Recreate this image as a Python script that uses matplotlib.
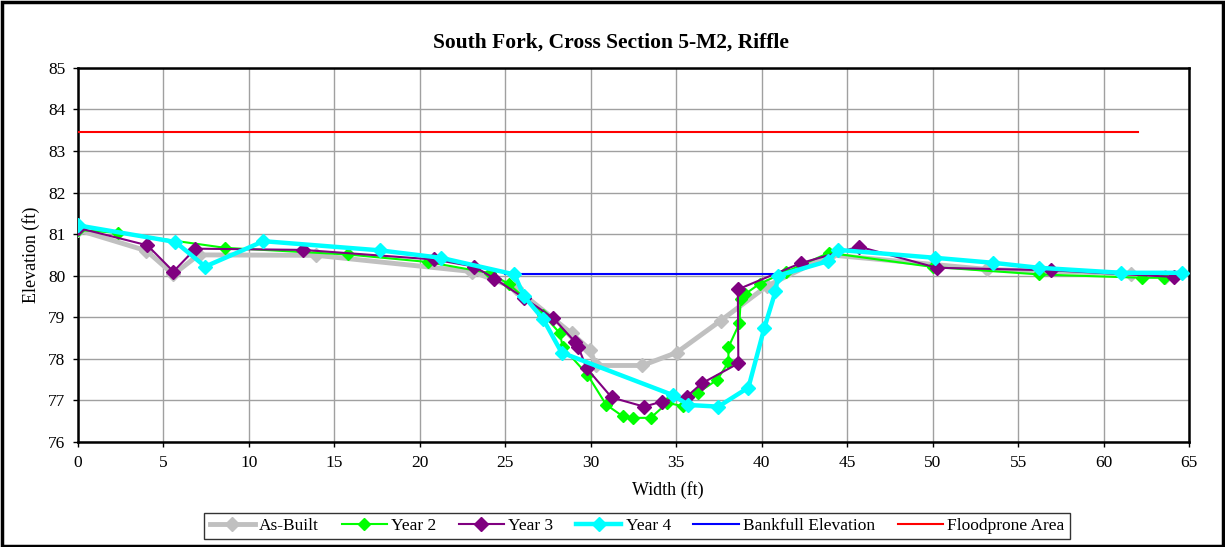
import matplotlib
matplotlib.use('Agg')
import matplotlib.pyplot as plt
from matplotlib.patches import Rectangle

plt.rcParams['font.family'] = ['Liberation Serif', 'DejaVu Serif']

# 断面数据 (宽度 ft, 高程 ft)
asbuilt_x = [0, 4.0, 5.58, 7.05, 13.93, 23.05, 25.6, 28.88, 29.95, 30.3, 33.01, 35.02, 37.6, 40.3, 44.0, 53.2, 61.6, 63.6]
asbuilt_y = [81.1, 80.6, 80.03, 80.5, 80.49, 80.1, 79.7, 78.61, 78.22, 77.84, 77.84, 78.15, 78.92, 79.75, 80.5, 80.15, 80.05, 79.97]

year2_x = [0, 2.36, 8.6, 15.77, 20.45, 24.12, 25.23, 27.22, 28.2, 28.35, 29.8, 30.89, 31.86, 32.45, 33.5,
           34.48, 35.41, 36.29, 37.4, 38.05, 38.05, 38.69, 38.77, 39.0, 39.89, 41.4, 43.93, 50.0, 56.22, 62.24, 63.54]
year2_y = [81.1, 81.03, 80.67, 80.51, 80.33, 80.06, 79.79, 79.06, 78.61, 78.28, 77.62, 76.9, 76.62, 76.58, 76.58,
           76.94, 76.86, 77.19, 77.5, 77.92, 78.28, 78.85, 79.45, 79.55, 79.81, 80.09, 80.55, 80.21, 80.03, 79.95, 79.95]

year3_x = [0, 4.06, 5.58, 6.87, 13.19, 20.8, 23.19, 24.36, 26.07, 27.8, 29.07, 29.27, 29.76, 31.22, 33.11,
           34.15, 35.61, 36.49, 38.63, 38.6, 42.27, 45.68, 50.24, 56.91, 64.13]
year3_y = [81.15, 80.73, 80.1, 80.65, 80.62, 80.39, 80.22, 79.93, 79.47, 78.98, 78.41, 78.28, 77.77, 77.07, 76.85,
           76.97, 77.09, 77.41, 77.89, 79.67, 80.3, 80.7, 80.19, 80.13, 79.97]

year4_x = [0, 5.7, 7.44, 10.85, 17.64, 21.23, 25.53, 26.1, 27.22, 28.29, 34.79, 35.71, 37.46, 39.22, 40.14,
           40.8, 40.95, 43.87, 44.48, 50.14, 53.53, 56.22, 61.0, 64.58]
year4_y = [81.21, 80.81, 80.22, 80.83, 80.61, 80.43, 80.03, 79.5, 78.95, 78.15, 77.13, 76.89, 76.85, 77.31, 78.73,
           79.62, 80.0, 80.35, 80.62, 80.43, 80.31, 80.19, 80.07, 80.07]

bankfull_x = [25.0, 40.8]
bankfull_y = [80.03, 80.03]

flood_x = [0, 62.0]
flood_y = [83.45, 83.45]

fig = plt.figure(figsize=(12.25, 5.47), dpi=100)
ax = fig.add_axes([0.0637, 0.192, 0.907, 0.684])

ax.plot(asbuilt_x, asbuilt_y, color='#C0C0C0', lw=3.5, marker='D', ms=7, label='As-Built', zorder=3)
ax.plot(year2_x, year2_y, color='#00FF00', lw=1.5, marker='D', ms=6, label='Year 2', zorder=4)
ax.plot(year3_x, year3_y, color='#800080', lw=1.5, marker='D', ms=7, label='Year 3', zorder=5)
ax.plot(year4_x, year4_y, color='#00FFFF', lw=3.2, marker='D', ms=7, label='Year 4', zorder=6)
ax.plot(bankfull_x, bankfull_y, color='#0000FF', lw=1.5, label='Bankfull Elevation', zorder=5)
ax.plot(flood_x, flood_y, color='#FF0000', lw=1.5, label='Floodprone Area', zorder=5)

ax.set_xlim(0, 65)
ax.set_ylim(76, 85)
ax.set_xticks(range(0, 66, 5))
ax.set_yticks(range(76, 86))
ax.grid(True, color='#A0A0A0', lw=1)
ax.set_axisbelow(True)
for s in ax.spines.values():
    s.set_linewidth(1.8)
ax.tick_params(direction='out', length=3.6, width=1, labelsize=12.5)
ax.tick_params(axis='x', pad=6)
ax.tick_params(axis='y', pad=5.5)

# 标题居中于整张图
fig.text(0.499, 1 - 43 / 547, 'South Fork, Cross Section 5-M2, Riffle', fontsize=15.5,
         fontweight='bold', ha='center', va='center')
ax.set_xlabel('Width (ft)', fontsize=13)
ax.xaxis.set_label_coords(0.531, -0.105)
ax.set_ylabel('Elevation (ft)', fontsize=13, labelpad=6)

leg = fig.legend(loc='center', bbox_to_anchor=(0.52, 0.0384), ncol=6, fontsize=12.5,
                 frameon=True, fancybox=False, edgecolor='black', handlelength=2.6,
                 columnspacing=1.3, handletextpad=0.25, borderpad=0.3)
leg.get_frame().set_linewidth(1.0)

# 外框
fig.patches.append(Rectangle((0.002, 0.002), 0.996, 0.994, transform=fig.transFigure,
                             fill=False, edgecolor='black', lw=2.5))

fig.savefig('out.png', dpi=100)
